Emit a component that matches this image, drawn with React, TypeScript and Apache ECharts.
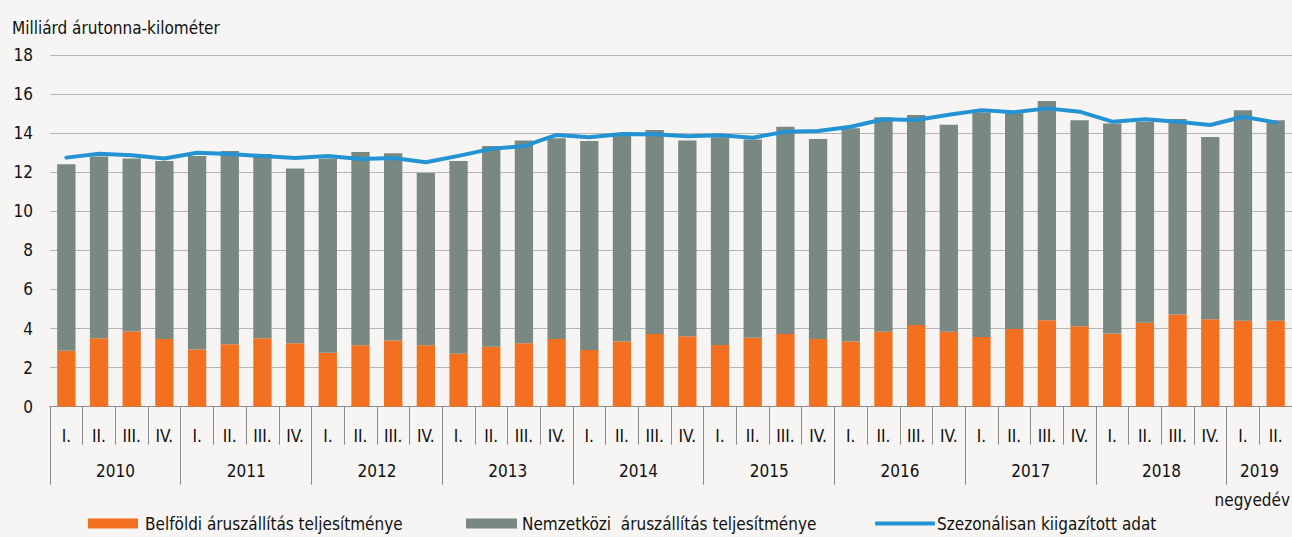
import React, { useEffect, useRef } from "react";
import * as echarts from "echarts";

const quarters = [
  "I.", "II.", "III.", "IV.", "I.", "II.", "III.", "IV.", "I.", "II.", "III.", "IV.",
  "I.", "II.", "III.", "IV.", "I.", "II.", "III.", "IV.", "I.", "II.", "III.", "IV.",
  "I.", "II.", "III.", "IV.", "I.", "II.", "III.", "IV.", "I.", "II.", "III.", "IV.",
  "I.", "II.",
];
const years = ["2010", "2011", "2012", "2013", "2014", "2015", "2016", "2017", "2018", "2019"];
const yAxisTicks = { min: 0, max: 18, interval: 2 };

const domestic = [
  2.86, 3.5, 3.85, 3.46, 2.93, 3.19, 3.5, 3.24, 2.76, 3.14, 3.38, 3.14,
  2.71, 3.07, 3.24, 3.46, 2.9, 3.34, 3.72, 3.6, 3.15, 3.53, 3.72, 3.46,
  3.34, 3.84, 4.18, 3.84, 3.56, 3.97, 4.42, 4.11, 3.75, 4.3, 4.71, 4.47,
  4.4, 4.4,
];
const international = [
  9.54, 9.3, 8.85, 9.11, 9.89, 9.89, 9.42, 8.95, 9.94, 9.89, 9.58, 8.81,
  9.86, 10.26, 10.38, 10.27, 10.69, 10.51, 10.43, 10.01, 10.63, 10.14, 10.6, 10.23,
  10.9, 10.96, 10.74, 10.58, 11.5, 11.04, 11.22, 10.54, 10.74, 10.28, 10.0, 9.32,
  10.76, 10.25,
];
const seasonal = [
  12.74, 12.94, 12.86, 12.7, 12.99, 12.92, 12.82, 12.72, 12.82, 12.67, 12.72, 12.5,
  12.83, 13.19, 13.33, 13.9, 13.78, 13.95, 13.93, 13.84, 13.88, 13.76, 14.07, 14.1,
  14.32, 14.7, 14.67, 14.93, 15.17, 15.06, 15.26, 15.09, 14.58, 14.7, 14.58, 14.41,
  14.83, 14.54,
];

const seriesNames = [
  "Belföldi áruszállítás teljesítménye",
  "Nemzetközi  áruszállítás teljesítménye",
  "Szezonálisan kiigazított adat",
];

const FONT = "'DejaVu Sans Condensed', 'Liberation Sans Narrow', sans-serif";
const BG = "#f6f5f3";

export default function App() {
  const ref = useRef<HTMLDivElement>(null);
  useEffect(() => {
    if (!ref.current) return;
    const chart = echarts.init(ref.current, null, { renderer: "svg" });
    const yearOfQuarter = quarters.map((_, i) => years[Math.floor(i / 4)]);
    const labelIdx = (i: number) => (i % 4 === 1 && i < 36) || i === 36;
    const textStyle = { fontFamily: FONT, fontSize: 17, color: "#111" };
    chart.setOption({
      animation: false,
      backgroundColor: BG,
      textStyle: { fontFamily: FONT },
      title: [
        {
          text: "Milliárd árutonna-kilométer",
          left: 7,
          top: 14,
          textStyle: { ...textStyle, fontWeight: "normal" },
        },
        {
          text: "negyedév",
          right: -3,
          top: 486,
          textStyle: { ...textStyle, fontWeight: "normal" },
        },
      ],
      legend: [
        {
          data: [seriesNames[0]],
          left: 83,
          top: 510,
          itemWidth: 50,
          itemHeight: 10,
          textStyle: { ...textStyle, padding: [0, 0, 0, 2] },
          icon: "rect",
          selectedMode: false,
        },
        {
          data: [seriesNames[1]],
          left: 461,
          top: 510,
          itemWidth: 51,
          itemHeight: 10,
          textStyle: { ...textStyle, padding: [0, 0, 0, 0] },
          icon: "rect",
          selectedMode: false,
        },
        {
          data: [seriesNames[2]],
          left: 870,
          top: 510,
          itemWidth: 60,
          itemHeight: 4,
          icon: "roundRect",
          textStyle: { ...textStyle, padding: [0, 0, 0, -3] },
          selectedMode: false,
        },
      ],
      grid: { left: 50, right: -5, top: 54.8, bottom: 130.3, containLabel: false },
      xAxis: [
        {
          type: "category",
          data: quarters,
          boundaryGap: true,
          axisLine: { lineStyle: { color: "#8c8c8c", width: 1 } },
          axisTick: { show: true, interval: 0, length: 38, lineStyle: { color: "#8c8c8c" } },
          axisLabel: { interval: 0, margin: 21, ...textStyle },
        },
        {
          type: "category",
          data: yearOfQuarter,
          position: "bottom",
          offset: 0,
          boundaryGap: true,
          axisLine: { show: false },
          axisTick: {
            show: true,
            interval: (i: number) => i % 4 === 0,
            length: 78,
            lineStyle: { color: "#8c8c8c" },
          },
          axisLabel: {
            interval: (i: number) => labelIdx(i),
            margin: 56,
            padding: [0, 0, 0, 33],
            ...textStyle,
          },
        },
      ],
      yAxis: {
        type: "value",
        min: yAxisTicks.min,
        max: yAxisTicks.max,
        interval: yAxisTicks.interval,
        axisLine: { show: false },
        axisTick: { show: false },
        axisLabel: { margin: 17, ...textStyle },
        splitLine: { lineStyle: { color: "#b5b5b5", width: 1 } },
      },
      series: [
        {
          name: seriesNames[0],
          type: "bar",
          stack: "total",
          data: domestic,
          barWidth: "56%",
          itemStyle: { color: "#f37021" },
        },
        {
          name: seriesNames[1],
          type: "bar",
          stack: "total",
          data: international,
          barWidth: "56%",
          itemStyle: { color: "#798880" },
        },
        {
          name: seriesNames[2],
          type: "line",
          data: seasonal,
          symbol: "none",
          smooth: false,
          lineStyle: { color: "#2393d3", width: 4, cap: "round", join: "round" },
          itemStyle: { color: "#2393d3" },
          z: 5,
        },
      ],
    });
    return () => chart.dispose();
  }, []);
  return (
    <div
      ref={ref}
      style={{ position: "absolute", left: 0, top: 0, width: 1292, height: 537 }}
    />
  );
}
